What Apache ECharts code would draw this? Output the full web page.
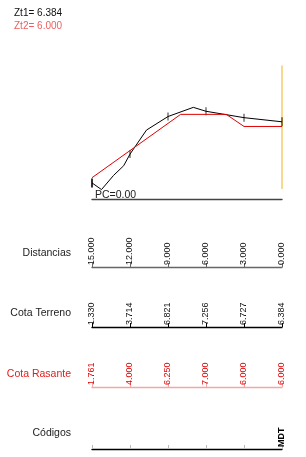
<!DOCTYPE html>
<html lang="es">
<head>
    <meta charset="UTF-8">
    <title>Perfil longitudinal</title>
    <style>
        html, body { margin: 0; padding: 0; background: #fff; }
    </style>
</head>
<body>
<div style="width: 306px;height: 457px;" id="perfil"></div>
<script src="https://cdnjs.cloudflare.com/ajax/libs/echarts/6.0.0/echarts.min.js"></script>
<script type="text/javascript">
  // estaciones (distancia al final, m)
  const stations = [15, 12, 9, 6, 3, 0];
  const cotaTerreno = [1.330, 3.714, 6.821, 7.256, 6.727, 6.384];
  const cotaRasante = [1.761, 4.000, 6.250, 7.000, 6.000, 6.000];
  const codigos = ['', '', '', '', '', 'MDT'];

  // trazado del terreno y de la rasante
  const terrenoPerfil = [
    [15, 1.33], [14.25, 0.78], [13.3, 1.95], [12.5, 2.75], [12, 3.714],
    [10.7, 5.7], [9, 6.821], [7.0, 7.58], [6, 7.256], [3, 6.727], [0, 6.384]];
  const rasantePerfil = [[15, 1.761], [8, 7.0], [4.4, 7.0], [3, 6.0], [0, 6.0]];
  const ejeVertical = [[0, 0.83], [0, 11.15]];

  const zt1 = 6.384;
  const zt2 = 6.000;
  const planoComparacion = 0.00;
  const rowTitles = ['Distancias', 'Cota Terreno', 'Cota Rasante', 'Códigos'];

  const FONT = '"Liberation Sans", Arial, sans-serif';
  const red = '#e00000';

  // lineas de las bandas (y en px)
  const bandLines = [267, 327, 387, 449];
  const bandH = 45;

  function bandGrid(y) {
    return {left: 92, right: 24, top: y - bandH, height: bandH, outerBoundsMode: 'none'};
  }

  function bandAxis(idx, lineColor, labelColor, formatter, bold, tickColor) {
    return {
      type: 'value', gridIndex: idx, min: 0, max: 15, interval: 3, inverse: true,
      axisLine: {show: true, lineStyle: {color: lineColor, width: 1.3}},
      axisTick: {show: true, inside: true, length: 4, lineStyle: {color: tickColor || lineColor, width: 1}},
      splitLine: {show: false},
      axisLabel: {
        show: true, inside: true, rotate: 90, margin: 2,
        fontSize: 9, fontFamily: FONT, color: labelColor,
        fontWeight: bold ? 'bold' : 'normal',
        formatter: formatter,
      },
    };
  }

  function pick(arr) {
    return function(v) {
      const i = stations.indexOf(v);
      if (i < 0) return '';
      return typeof arr[i] === 'number' ? arr[i].toFixed(3) : arr[i];
    };
  }

  const hiddenY = (idx, max) => ({
    type: 'value', gridIndex: idx, min: 0, max: max, show: false,
  });

  const option = {
    animation: false,
    backgroundColor: '#fff',
    grid: [
      {left: 92, right: 24, top: 66, height: 133, outerBoundsMode: 'none'},
      bandGrid(bandLines[0]),
      bandGrid(bandLines[1]),
      bandGrid(bandLines[2]),
      bandGrid(bandLines[3]),
    ],
    xAxis: [
      {
        type: 'value', gridIndex: 0, min: 0, max: 15, inverse: true,
        axisLine: {show: true, lineStyle: {color: '#444', width: 1.4}},
        axisTick: {show: false}, axisLabel: {show: false}, splitLine: {show: false},
      },
      bandAxis(1, '#666', '#111', v => v.toFixed(3)),
      bandAxis(2, '#000', '#111', pick(cotaTerreno)),
      bandAxis(3, '#f3a6a6', red, pick(cotaRasante)),
      bandAxis(4, '#000', '#000', pick(codigos), true, '#bbb'),
    ],
    yAxis: [hiddenY(0, 11), hiddenY(1, 1), hiddenY(2, 1), hiddenY(3, 1), hiddenY(4, 1)],
    series: [
      {
        name: 'Eje', type: 'line', xAxisIndex: 0, yAxisIndex: 0,
        data: ejeVertical, symbol: 'none',
        lineStyle: {color: '#f2b21e', width: 1},
      },
      {
        name: 'Terreno', type: 'line', xAxisIndex: 0, yAxisIndex: 0,
        data: terrenoPerfil, symbol: 'none',
        lineStyle: {color: '#000', width: 1},
      },
      {
        name: 'Rasante', type: 'line', xAxisIndex: 0, yAxisIndex: 0,
        data: rasantePerfil, symbol: 'none',
        lineStyle: {color: red, width: 1},
      },
      {
        name: 'Marcas', type: 'scatter', xAxisIndex: 0, yAxisIndex: 0,
        data: stations.map((d, i) => [d, cotaTerreno[i]]),
        symbol: 'rect',
        symbolSize: (val) => (val[0] === 0 || val[0] === 15) ? [2, 9] : [1, 8],
        itemStyle: {color: '#000'},
      },
    ],
    graphic: [
      {
        type: 'text', x: 14, y: 13,
        style: {text: 'Zt1= ' + zt1.toFixed(3), font: '10px ' + FONT, fill: '#111', verticalAlign: 'middle'},
      },
      {
        type: 'text', x: 14, y: 26,
        style: {text: 'Zt2= ' + zt2.toFixed(3), font: '10px ' + FONT, fill: '#ee5e5e', verticalAlign: 'middle'},
      },
      {
        type: 'text', x: 95, y: 195,
        style: {text: 'PC=' + planoComparacion.toFixed(2), font: '10.5px ' + FONT, fill: '#222', verticalAlign: 'middle'},
      },
      ...rowTitles.map((t, i) => ({
        type: 'text', x: 71, y: [253, 313, 374, 433][i],
        style: {
          text: t, font: '10.5px ' + FONT, fill: i === 2 ? '#e41a1a' : '#222',
          align: 'right', verticalAlign: 'middle',
        },
      })),
    ],
  };

  let instance = echarts.init(document.getElementById('perfil'));
  instance.setOption(option);
</script>
</body>
</html>
